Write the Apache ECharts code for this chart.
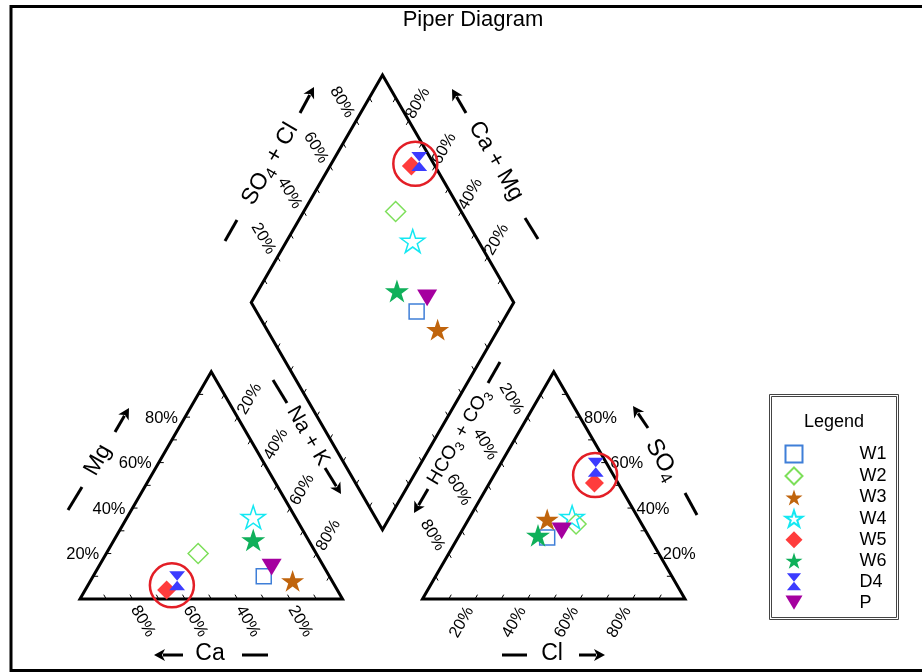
<!DOCTYPE html>
<html>
<head>
<meta charset="utf-8">
<script src="https://cdn.jsdelivr.net/npm/echarts@6/dist/echarts.min.js"></script>
<style>
html, body { margin: 0; padding: 0; background: #fff; }
#chart { width: 922px; height: 672px; }
</style>
</head>
<body>
<div id="chart"></div>
<script>
// samples and their ion percentages (meq %)
const samples = ['W1', 'W2', 'W3', 'W4', 'W5', 'W6', 'D4', 'P'];
const ca   = [25, 45, 15, 16, 65, 21, 59, 20];
const mg   = [10, 20,  8, 36,  4, 26,  8, 14];
const naK  = [65, 35, 77, 48, 31, 53, 33, 66];
const hco3 = [39, 25, 35, 25,  9, 42,  5, 32];
const so4  = [27, 33, 35, 36, 51, 28, 58, 30];
const cl   = [34, 42, 30, 39, 40, 30, 37, 38];
const tickValues = [20, 40, 60, 80];
const circled = ['W5', 'D4'];

// marker styles
const symbols = {
    W1: { symbol: 'rect', size: 15, color: '#3f7fd8', hollow: true },
    W2: { symbol: 'diamond', size: 20, color: '#7ddf5a', hollow: true },
    W3: { symbol: 'star', size: 23, color: '#c0640c' },
    W4: { symbol: 'star', size: 24, color: '#14e8f2', hollow: true },
    W5: { symbol: 'diamond', size: 19, color: '#ff3c3c' },
    W6: { symbol: 'star', size: 24, color: '#0fb05a' },
    D4: { symbol: 'hourglass', size: 19, color: '#3c3cff' },
    P:  { symbol: 'tridown', size: 20, color: '#a5009f' }
};
const PATHS = {
    star: 'path://M50,0L61.2,34.5L97.6,34.5L68.2,55.9L79.4,90.5L50,69.1L20.6,90.5L31.8,55.9L2.4,34.5L38.8,34.5Z',
    hourglass: 'path://M0,0L10,0L5,6L10,12L0,12L5,6Z',
    tridown: 'path://M0,0L12,0L6,10Z'
};

const FONT = '"Liberation Sans", Arial, sans-serif';
const UNIT = 262.5;          // px per triangle side
const ORIGIN = [80, 599];    // px of the Ca corner
const GAP = 80 / UNIT;
const H = Math.sqrt(3) / 2;
const OX = 1 + GAP;          // left corner of anion triangle
const B = [(1 + OX) / 2, GAP * H]; // bottom corner of diamond
const TL = 5 / UNIT;         // tick length

function catXY (i) {
    const s = ca[i] + mg[i] + naK[i]
    const m = mg[i] / s, n = naK[i] / s
    return [n + m / 2, m * H]
}
function anXY (i) {
    const s = hco3[i] + so4[i] + cl[i]
    const so = so4[i] / s, c = cl[i] / s
    return [OX + c + so / 2, so * H]
}
function diaPt (cm, sc) {
    return [B[0] + 0.5 * (sc - cm), B[1] + H * (sc + cm)]
}
function diaXY (i) {
    const cm = (ca[i] + mg[i]) / (ca[i] + mg[i] + naK[i])
    const sc = (so4[i] + cl[i]) / (hco3[i] + so4[i] + cl[i])
    return diaPt(cm, sc)
}

function renderFrame (params, api) {
    const P = (p) => api.coord(p)
    const children = []
    const poly = (pts) => children.push({
        type: 'polygon',
        shape: { points: pts.map(P) },
        style: { fill: 'none', stroke: '#000', lineWidth: 3, lineJoin: 'miter' }
    })
    const tick = (p, d) => {
        const a = P(p), b = P([p[0] + d[0] * TL, p[1] + d[1] * TL])
        children.push({ type: 'line', shape: { x1: a[0], y1: a[1], x2: b[0], y2: b[1] }, style: { stroke: '#000', lineWidth: 1 } })
    }
    const label = (p, dx, dy, rot, align, v) => {
        const a = P(p)
        children.push({
            type: 'text', x: a[0] + dx, y: a[1] + dy, rotation: rot,
            style: { text: v + '%', font: '16.5px ' + FONT, fill: '#000', align: align, verticalAlign: 'middle' }
        })
    }

    // outlines
    poly([[0, 0], [1, 0], [0.5, H]])
    poly([[OX, 0], [OX + 1, 0], [OX + 0.5, H]])
    poly([diaPt(0, 0), diaPt(0, 1), diaPt(1, 1), diaPt(1, 0)])

    for (let k = 1; k < 10; k++) {
        const t = k / 10
        // cation triangle
        tick([t, 0], [-0.5, H])
        tick([t / 2, t * H], [1, 0])
        tick([t + (1 - t) / 2, (1 - t) * H], [-0.5, -H])
        // anion triangle
        tick([OX + t, 0], [0.5, H])
        tick([OX + (1 - t) / 2, (1 - t) * H], [0.5, -H])
        tick([OX + 1 - t / 2, t * H], [-1, 0])
        // diamond
        tick(diaPt(1, t), [0.5, -H])
        tick(diaPt(t, 1), [-0.5, -H])
        tick(diaPt(t, 0), [0.5, H])
        tick(diaPt(0, t), [-0.5, H])
    }

    tickValues.forEach(v => {
        const t = v / 100
        label([1 - t, 0], 2, 8, -Math.PI / 3, 'left', v)                      // Ca
        label([t / 2, t * H], -7, 1, 0, 'right', v)                             // Mg
        label([t + (1 - t) / 2, (1 - t) * H], 4, -4, Math.PI / 3, 'left', v)    // Na + K
        label([OX + t, 0], -5, 9, Math.PI / 3, 'right', v)                      // Cl
        label([OX + (1 - t) / 2, (1 - t) * H], -8, -4, -Math.PI / 3, 'right', v) // HCO3
        label([OX + 1 - t / 2, t * H], 4, 1, 0, 'left', v)                      // SO4
        label(diaPt(1, t), -6, -4, -Math.PI / 3, 'right', v)                    // SO4 + Cl
        label(diaPt(t, 1), 1, -3, Math.PI / 3, 'left', v)                       // Ca + Mg
    })
    return { type: 'group', children: children }
}

// decorations: frame, titles, arrows
const graphicEls = []
function gLine (x1, y1, x2, y2, w) {
    graphicEls.push({ type: 'line', shape: { x1, y1, x2, y2 }, style: { stroke: '#000', lineWidth: w || 3 } })
}
function gArrow (x1, y1, x2, y2) {
    const dx = x2 - x1, dy = y2 - y1, len = Math.hypot(dx, dy)
    const ux = dx / len, uy = dy / len
    const hl = 11, hw = 6
    const bx = x2 - ux * hl, by = y2 - uy * hl
    gLine(x1, y1, bx + ux * 2, by + uy * 2, 3)
    graphicEls.push({
        type: 'polygon',
        shape: { points: [[x2, y2], [bx - uy * hw, by + ux * hw], [bx + ux * 3, by + uy * 3], [bx + uy * hw, by - ux * hw]] },
        style: { fill: '#000' }
    })
}
function gText (x, y, rot, text, size, rich) {
    graphicEls.push({
        type: 'text', x, y, rotation: rot,
        style: {
            text, font: size + 'px ' + FONT, fill: '#000', align: 'center', verticalAlign: 'middle',
            lineHeight: size + 6, rich: rich
        }
    })
}
const subRich = (size) => ({ s: { fontSize: Math.round(size * 0.7), lineHeight: Math.round(size * 0.7), verticalAlign: 'bottom', fontFamily: FONT } })

graphicEls.push({ type: 'rect', shape: { x: 11, y: 6.5, width: 1000, height: 664 }, style: { fill: 'none', stroke: '#000', lineWidth: 3 } })
gText(473, 20, 0, 'Piper Diagram', 22)

// Mg
gLine(68, 510, 82, 487); gText(98, 460, Math.PI / 3, 'Mg', 23); gArrow(115, 432, 129, 408)
// Ca
gArrow(183, 655, 154, 655); gText(210, 654, 0, 'Ca', 23); gLine(242, 655, 268, 655)
// Na + K
gLine(273, 380, 287, 403); gText(308, 436, -Math.PI / 3, 'Na + K', 21); gArrow(325, 468, 341, 494)
// SO4 + Cl
gLine(225, 241, 237, 220); gText(270, 164, Math.PI / 3, 'SO{s|4} + Cl', 23, subRich(23)); gArrow(300, 113, 314, 87)
// Ca + Mg
gArrow(466, 113, 452, 89); gText(496, 161, -Math.PI / 3, 'Ca + Mg', 23); gLine(525, 218, 538, 239)
// HCO3 + CO3
gLine(488, 383, 500, 362); gText(459, 437, Math.PI / 3, 'HCO{s|3} + CO{s|3}', 19, subRich(19)); gArrow(428, 489, 414, 513)
// SO4
gArrow(648, 428, 633, 406); gText(662, 460, -Math.PI / 3, 'SO{s|4}', 24, subRich(24)); gLine(685, 493, 697, 515)
// Cl
gLine(502, 655, 527, 655); gText(552, 654, 0, 'Cl', 23); gArrow(579, 655, 605, 655)

// legend box
graphicEls.push({ type: 'rect', shape: { x: 769.5, y: 394.5, width: 129, height: 225 }, style: { fill: 'none', stroke: '#444', lineWidth: 1 } })
graphicEls.push({ type: 'rect', shape: { x: 771.5, y: 396.5, width: 125, height: 221 }, style: { fill: 'none', stroke: '#444', lineWidth: 1 } })
gText(834, 422, 0, 'Legend', 18)

const series = [{
    type: 'custom',
    name: 'frame',
    silent: true,
    renderItem: renderFrame,
    data: [[0, 0]],
    z: 1
}]
samples.forEach((name, i) => {
    const st = symbols[name]
    series.push({
        type: 'scatter',
        name: name,
        symbol: PATHS[st.symbol] || st.symbol,
        symbolSize: st.size,
        symbolKeepAspect: true,
        itemStyle: st.hollow
            ? { color: 'rgba(0,0,0,0)', borderColor: st.color, borderWidth: 1.5, opacity: 1 }
            : { color: st.color, opacity: 1 },
        data: [catXY(i), anXY(i), diaXY(i)],
        z: 3
    })
})
// red circles around the highlighted pair
const ci = circled.map(n => samples.indexOf(n))
const mid = (f) => { const a = f(ci[0]), b = f(ci[1]); return [(a[0] + b[0]) / 2, (a[1] + b[1]) / 2] }
series.push({
    type: 'scatter',
    name: 'circle',
    symbol: 'circle',
    symbolSize: 44,
    silent: true,
    itemStyle: { color: 'rgba(0,0,0,0)', borderColor: '#e31e26', borderWidth: 2.5, opacity: 1 },
    data: [mid(catXY), mid(anXY), mid(diaXY)],
    z: 4
})

const chart = echarts.init(document.getElementById('chart'))
chart.setOption({
    animation: false,
    backgroundColor: '#fff',
    grid: { left: 0, right: 0, top: 0, bottom: 0 },
    xAxis: { type: 'value', show: false, min: -ORIGIN[0] / UNIT, max: (922 - ORIGIN[0]) / UNIT },
    yAxis: { type: 'value', show: false, min: -(672 - ORIGIN[1]) / UNIT, max: ORIGIN[1] / UNIT },
    legend: {
        data: samples,
        orient: 'vertical',
        left: 784.5,
        top: 444.5,
        padding: 0,
        itemWidth: 17,
        itemHeight: 17,
        itemGap: 3,
        selectedMode: false,
        textStyle: { fontSize: 18, fontFamily: FONT, color: '#000', lineHeight: 17, padding: [0, 0, 0, 52] }
    },
    graphic: { elements: graphicEls },
    series: series
})
</script>
</body>
</html>
